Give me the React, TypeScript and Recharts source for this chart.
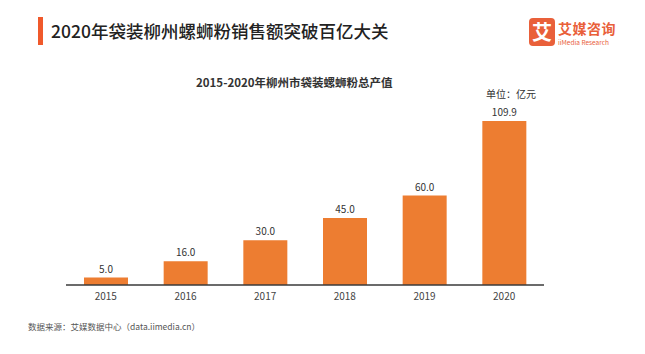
import { BarChart, Bar, XAxis, YAxis, LabelList } from "recharts";

const years = ["2015", "2016", "2017", "2018", "2019", "2020"];
const output = [5.0, 16.0, 30.0, 45.0, 60.0, 109.9];

const data = years.map((year, i) => ({ year, value: output[i] }));

const FONT = '"Noto Sans CJK SC", "Noto Sans", sans-serif';

export default function App() {
  return (
    <div
      style={{
        position: "absolute",
        left: 0,
        top: 0,
        width: 645,
        height: 354,
        background: "#fff",
        fontFamily: FONT,
        overflow: "hidden",
      }}
    >
      {/* header */}
      <div style={{ position: "absolute", left: 38, top: 17, width: 5, height: 28, background: "#F0592B" }} />
      <div
        style={{
          position: "absolute",
          left: 51,
          top: 18,
          fontSize: 17.5,
          fontWeight: 500,
          color: "#222",
          lineHeight: "26px",
          whiteSpace: "nowrap",
        }}
      >
        2020年袋装柳州螺蛳粉销售额突破百亿大关
      </div>

      {/* logo */}
      <div
        style={{
          position: "absolute",
          left: 529,
          top: 18,
          width: 26,
          height: 28,
          borderRadius: 4,
          background: "#E9603A",
          color: "#fff",
          fontSize: 20,
          fontWeight: 700,
          lineHeight: "28px",
          textAlign: "center",
        }}
      >
        艾
      </div>
      <div
        style={{
          position: "absolute",
          left: 558,
          top: 19,
          fontSize: 14,
          fontWeight: 700,
          color: "#E9603A",
          lineHeight: "18px",
          letterSpacing: 0.5,
          whiteSpace: "nowrap",
        }}
      >
        艾媒咨询
      </div>
      <div
        style={{
          position: "absolute",
          left: 558,
          top: 38,
          fontSize: 6.5,
          color: "#E9603A",
          lineHeight: "8px",
          whiteSpace: "nowrap",
        }}
      >
        iiMedia Research
      </div>

      {/* chart title */}
      <div
        style={{
          position: "absolute",
          left: 196,
          top: 74,
          fontSize: 11.5,
          fontWeight: 700,
          color: "#333",
          lineHeight: "16px",
          whiteSpace: "nowrap",
        }}
      >
        2015-2020年柳州市袋装螺蛳粉总产值
      </div>
      <div
        style={{
          position: "absolute",
          left: 486,
          top: 87,
          fontSize: 10,
          color: "#333",
          lineHeight: "14px",
          whiteSpace: "nowrap",
        }}
      >
        单位：亿元
      </div>

      <div style={{ position: "absolute", left: 0, top: 0 }}>
        <BarChart
          width={645}
          height={354}
          data={data}
          margin={{ top: 106, right: 101, bottom: 49, left: 66 }}
          barCategoryGap={18}
        >
          <XAxis
            dataKey="year"
            height={20}
            axisLine={{ stroke: "#3a3a3a", strokeWidth: 1.5 }}
            tickLine={false}
            tick={{ fill: "#444", fontSize: 10, fontFamily: FONT }}
          />
          <YAxis hide domain={[0, 120]} />
          <Bar dataKey="value" fill="#ED7D31" isAnimationActive={false}>
            <LabelList
              dataKey="value"
              position="top"
              formatter={(v: number) => v.toFixed(1)}
              style={{ fill: "#333", fontSize: 10, fontFamily: FONT }}
            />
          </Bar>
        </BarChart>
      </div>

      {/* source */}
      <div
        style={{
          position: "absolute",
          left: 28,
          top: 320,
          fontSize: 8.5,
          color: "#555",
          lineHeight: "13px",
          whiteSpace: "nowrap",
        }}
      >
        数据来源：艾媒数据中心（data.iimedia.cn）
      </div>
    </div>
  );
}
